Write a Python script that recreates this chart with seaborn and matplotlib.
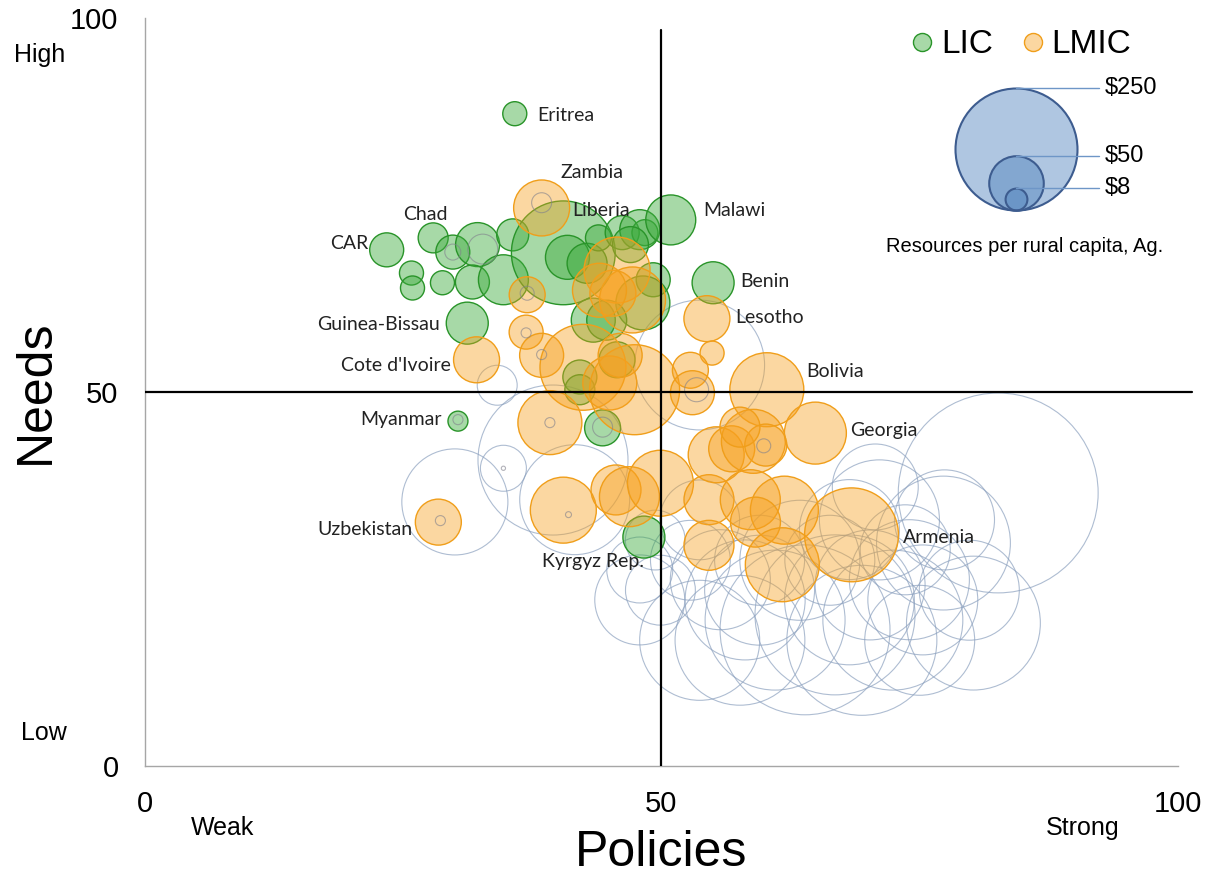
import numpy as np
import pandas as pd
import matplotlib
matplotlib.use("Agg")
import matplotlib.pyplot as plt
import matplotlib.transforms as mtransforms
from matplotlib.lines import Line2D
import seaborn as sns

# -------------------------
# Data (policy score, needs score, $ per rural capita)
# -------------------------
lic_policy = [35.8, 23.4, 27.9, 25.8, 25.9, 28.8, 29.8, 32.2, 31.7, 34.7, 35.6, 40.5,
              40.9, 42.8, 43.9, 46.2, 48.4, 47.9, 50.9, 49.2, 55.0, 31.2, 48.2, 43.4,
              44.7, 42.1, 42.1, 45.7, 30.3, 44.3, 48.3, 47.0]
lic_needs = [87.2, 69.0, 70.6, 65.9, 63.9, 64.6, 68.7, 69.7, 64.7, 65.0, 71.0, 68.6,
             68.0, 67.2, 70.6, 71.3, 71.3, 71.7, 73.0, 65.0, 64.6, 59.2, 61.9, 59.6,
             59.6, 52.0, 50.3, 54.3, 46.1, 45.2, 30.6, 69.7]
lic_res = [9.7, 19.4, 15.1, 9.7, 9.7, 9.7, 19.4, 32.5, 19.4, 41.9, 17.2, 181,
           32.5, 26.8, 11.3, 19.4, 11.3, 26.8, 41.9, 19.4, 29.6, 29.6, 48.9, 32.5,
           26.8, 19.4, 15.1, 21.7, 6.7, 21.7, 29.6, 21.7]

lmic_policy = [38.4, 45.7, 45.3, 47.2, 44.0, 37.0, 36.9, 32.1, 54.4, 54.9, 38.4, 42.4,
               45.0, 47.4, 52.8, 53.0, 60.2, 64.9, 39.2, 28.4, 40.5, 45.6, 46.9, 49.9,
               54.6, 55.3, 56.8, 58.9, 60.1, 57.6, 58.6, 61.9, 59.1, 54.6, 61.7, 68.4, 46.0]
lmic_needs = [74.6, 66.3, 63.2, 62.3, 63.6, 63.0, 58.0, 54.3, 59.8, 55.2, 54.9, 53.3,
              51.2, 50.3, 52.9, 49.9, 50.3, 44.5, 45.9, 32.6, 34.2, 36.9, 36.0, 37.8,
              35.6, 41.6, 42.4, 43.4, 42.9, 45.3, 35.6, 34.2, 32.6, 29.5, 26.9, 30.9, 54.9]
lmic_res = [52.6, 73.1, 35.5, 73.1, 48.9, 21.7, 19.4, 35.5, 35.5, 9.7, 32.5, 124,
            48.9, 136, 21.7, 32.5, 91.9, 64.5, 68.7, 35.5, 73.1, 41.9, 60.4, 73.1,
            41.9, 52.6, 35.5, 68.7, 29.6, 26.8, 60.4, 77.6, 41.9, 41.9, 91.9, 148, 32.5]

other_policy = [82.6, 30.0, 34.7, 39.5, 34.1, 53.7, 47.9, 41.6, 52.8, 55.7, 58.1, 61.0,
                63.9, 66.8, 69.4, 72.4, 75.3, 80.2, 79.8, 59.5, 66.3, 70.2, 73.6, 77.4,
                70.7, 49.9, 49.4, 53.7, 77.3, 63.4, 57.6, 68.2, 75.0,
                47.9, 53.7, 59.5, 68.2, 74.0, 71.1]
other_needs = [36.5, 35.3, 39.8, 40.9, 50.9, 53.6, 26.2, 35.6, 27.5, 24.9, 22.2, 19.5,
               18.2, 20.2, 16.8, 19.5, 22.2, 19.1, 23.5, 27.5, 27.5, 24.2, 28.9, 32.9,
               37.3, 23.5, 30.2, 32.9, 29.8, 27.5, 16.8, 31.6, 16.8,
               22.2, 16.8, 23.5, 22.2, 24.9, 32.9]
other_res = [671, 189, 35.5, 378, 26.8, 283, 73, 203, 107, 168, 242, 329,
             485, 430, 378, 329, 203, 301, 168, 136, 136, 203, 136, 168,
             124, 82, 60, 107, 301, 242, 283, 168, 203,
             136, 242, 203, 283, 242, 242]

inner_policy = [38.4, 44.3, 30.3, 28.6, 36.9, 38.4, 37.0, 39.2, 34.7, 41.0, 59.9, 32.7, 29.8, 53.4]
inner_needs = [75.3, 45.3, 46.3, 32.8, 57.9, 55.0, 63.2, 45.9, 39.8, 33.6, 42.8, 69.1, 68.7, 50.3]
inner_res = [6.7, 6.7, 1.7, 1.7, 1.7, 1.7, 3.3, 1.7, 0.3, 0.6, 3.3, 15, 4.3, 9.7]

label_names = ["Eritrea", "Zambia", "Chad", "CAR", "Liberia", "Malawi", "Benin", "Lesotho",
               "Guinea-Bissau", "Cote d'Ivoire", "Bolivia", "Myanmar", "Georgia",
               "Uzbekistan", "Armenia", "Kyrgyz Rep."]
label_pos = [(38.0, 87.0), (40.2, 79.3), (25.0, 73.7), (17.9, 69.8), (41.4, 74.2),
             (54.0, 74.3), (57.6, 64.8), (57.1, 60.0), (16.7, 59.0), (19.0, 53.5),
             (64.0, 52.8), (20.8, 46.3), (68.3, 44.9), (16.7, 31.6), (73.4, 30.6),
             (38.4, 27.3)]

legend_vals = [250, 50, 8]

# marker area (pt^2) per dollar, so that $250 -> ~61 px radius
S_PER_DOLLAR = 30.86
VMAX = max(other_res + lic_res + lmic_res)

lic = pd.DataFrame({"policy": lic_policy, "needs": lic_needs, "res": lic_res})
lmic = pd.DataFrame({"policy": lmic_policy, "needs": lmic_needs, "res": lmic_res})
other = pd.DataFrame({"policy": other_policy, "needs": other_needs, "res": other_res})
inner = pd.DataFrame({"policy": inner_policy, "needs": inner_needs, "res": inner_res})

sns.set_style("white")
plt.rcParams["font.family"] = ["Liberation Sans", "DejaVu Sans"]
plt.rcParams["text.color"] = "black"
plt.rcParams["axes.labelcolor"] = "black"

fig = plt.figure(figsize=(12.05, 8.76), dpi=100)
ax = fig.add_axes([0.1203, 0.1256, 0.8744, 0.8539])

# area proportional to dollars, same scale for every series
size_kw = dict(size="res", sizes=(0, VMAX * S_PER_DOLLAR), size_norm=(0, VMAX), legend=False)

GREEN = (0.24, 0.67, 0.24)
ORANGE = (0.97, 0.63, 0.12)
GRAY = (0.55, 0.63, 0.75)

sns.scatterplot(data=other, x="policy", y="needs", ax=ax, facecolor="none",
                edgecolor=GRAY + (0.7,), linewidth=0.8, zorder=2, **size_kw)
sns.scatterplot(data=inner, x="policy", y="needs", ax=ax, facecolor="none",
                edgecolor=(0.5, 0.5, 0.55, 0.6), linewidth=0.8, zorder=4, **size_kw)
sns.scatterplot(data=lic, x="policy", y="needs", ax=ax, color=GREEN + (0.45,),
                edgecolor=(0.16, 0.58, 0.16, 1.0), linewidth=1.0, zorder=3, **size_kw)
sns.scatterplot(data=lmic, x="policy", y="needs", ax=ax, color=ORANGE + (0.42,),
                edgecolor=(0.94, 0.62, 0.1, 1.0), linewidth=1.0, zorder=3, **size_kw)

# quadrant lines
ax.plot([50, 50], [0, 98.4], color="black", lw=1.6, zorder=6)
ax.plot([0, 101.4], [50, 50], color="black", lw=1.6, zorder=6)

# country labels
for name, (lx, ly) in zip(label_names, label_pos):
    ax.text(lx, ly, name, fontsize=14, family=["Lato", "DejaVu Sans"], color="#222222",
            ha="left", va="center", zorder=7)

# axes styling
ax.set_xlim(0, 102)
ax.set_ylim(0, 100)
ax.spines["top"].set_visible(False)
ax.spines["right"].set_visible(False)
for sp in ("left", "bottom"):
    ax.spines[sp].set_color("#a6a6a6")
    ax.spines[sp].set_linewidth(1.0)
ax.spines["bottom"].set_bounds(0, 100)
ax.set_xticks([0, 50, 100])
ax.set_yticks([0, 50, 100])
ax.tick_params(axis="both", direction="out", length=7, width=1, color="#a6a6a6",
               labelsize=21, labelcolor="black")
ax.tick_params(axis="y", pad=12)
ax.tick_params(axis="x", pad=10)
ax.set_xlabel("Policies", fontsize=36)
ax.set_ylabel("Needs", fontsize=36)
ax.xaxis.set_label_coords(0.49, -0.085)
ax.yaxis.set_label_coords(-0.082, 0.5)

ax.text(-10.2, 95.1, "High", fontsize=18, ha="center", va="center", clip_on=False)
ax.text(-9.8, 4.4, "Low", fontsize=18, ha="center", va="center", clip_on=False)
ax.text(7.55, -8.3, "Weak", fontsize=18, ha="center", va="center", clip_on=False)
ax.text(90.8, -8.3, "Strong", fontsize=18, ha="center", va="center", clip_on=False)

# group legend
handles = [
    Line2D([], [], marker="o", ls="", markersize=13, markerfacecolor=GREEN + (0.45,),
           markeredgecolor=(0.16, 0.58, 0.16), label="LIC"),
    Line2D([], [], marker="o", ls="", markersize=13, markerfacecolor=ORANGE + (0.42,),
           markeredgecolor=(0.94, 0.62, 0.1), label="LMIC"),
]
ax.legend(handles=handles, ncol=2, loc="center", bbox_to_anchor=(0.832, 0.964),
          frameon=False, fontsize=24, handlelength=0.6, handletextpad=0.25,
          columnspacing=0.9, borderpad=0)

# size legend: nested circles sitting on a common baseline
leg_x, leg_base, line_end = 84.3, 74.3, 92.4
for v in legend_vals:
    s = v * S_PER_DOLLAR
    r_pt = np.sqrt(s) / 2
    up_r = ax.transData + mtransforms.ScaledTranslation(0, r_pt / 72, fig.dpi_scale_trans)
    up_d = ax.transData + mtransforms.ScaledTranslation(0, 2 * r_pt / 72, fig.dpi_scale_trans)
    ax.scatter([leg_x], [leg_base], s=s, transform=up_r,
               facecolor=(0.31, 0.51, 0.74, 0.45), edgecolor=(0.24, 0.36, 0.56),
               linewidth=1.5, zorder=5)
    ax.plot([leg_x, line_end], [leg_base, leg_base], transform=up_d,
            color=(0.43, 0.59, 0.78), lw=1.0, zorder=5)
    ax.text(line_end + 0.5, leg_base, f"${v}", transform=up_d, fontsize=17,
            ha="left", va="center", zorder=5)
ax.text(85.2, 69.4, "Resources per rural capita, Ag.", fontsize=14.5,
        ha="center", va="center")

ax.set_xlim(0, 102)
ax.set_ylim(0, 100)

fig.savefig("out.png", dpi=100)
